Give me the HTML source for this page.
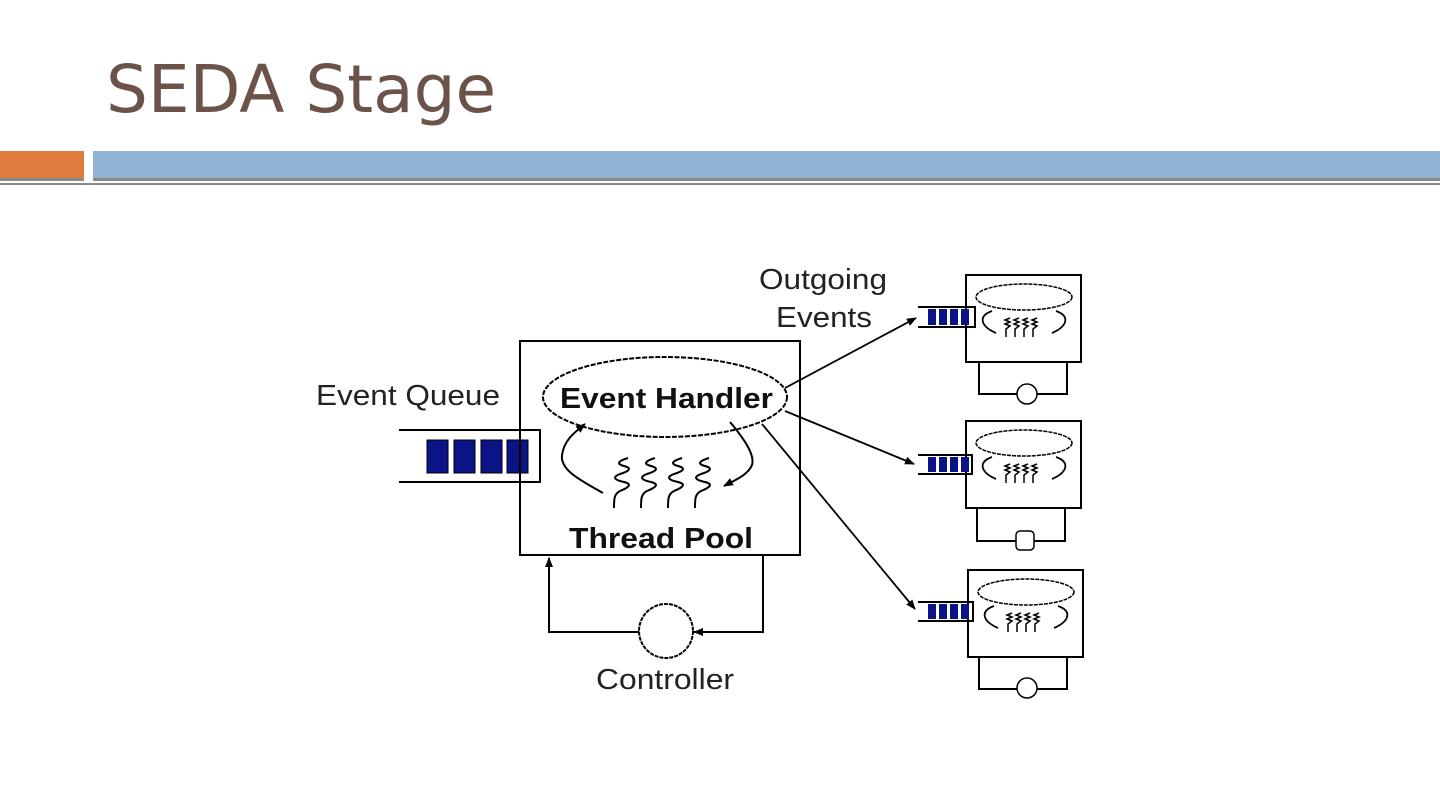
<!DOCTYPE html>
<html><head><style>
html,body{margin:0;padding:0;background:#fff;}
body{width:1440px;height:810px;position:relative;overflow:hidden;font-family:"Liberation Sans",sans-serif;}
</style></head><body>
<svg width="1440" height="810" viewBox="0 0 1440 810" xmlns="http://www.w3.org/2000/svg" style="position:absolute;left:0;top:0">
<defs>
<marker id="ah" markerWidth="10" markerHeight="8" refX="9" refY="4" orient="auto" markerUnits="userSpaceOnUse"><path d="M0,0 L10,4 L0,8 z" fill="#000"/></marker>
<g id="threads" fill="none" stroke="#000" stroke-width="2">
<path d="M0,0 c-10,3 -12,6 -4,8 c8,2 6,5 -4,8 c-8,3 -6,6 4,8 c8,2 6,5 -4,9 c-6,3 -6,8 -6,17"/>
</g>
<g id="mini">
<rect x="0" y="0" width="115" height="87" fill="#fff" stroke="#000" stroke-width="2"/>
<ellipse cx="58" cy="22" rx="48" ry="13" fill="none" stroke="#000" stroke-width="1.5" stroke-dasharray="4,1"/>
<path d="M26,36 c-14,5 -12,15 4,22" fill="none" stroke="#000" stroke-width="1.8"/>
<path d="M90,36 c14,5 12,15 -4,22" fill="none" stroke="#000" stroke-width="1.8"/>
<g fill="none" stroke="#000" stroke-width="1.5">
<path d="M44,43 l-5,2 l5,2 l-5,2 l5,2 l-4,3 l0,8"/>
<path d="M53,43 l-5,2 l5,2 l-5,2 l5,2 l-4,3 l0,8"/>
<path d="M62,43 l-5,2 l5,2 l-5,2 l5,2 l-4,3 l0,8"/>
<path d="M71,43 l-5,2 l5,2 l-5,2 l5,2 l-4,3 l0,8"/>
</g>
</g>
</defs>
<text x="106" y="112" font-size="66" fill="#6b5349" font-family="DejaVu Sans, sans-serif">SEDA Stage</text>
<rect x="0" y="151" width="84" height="27" fill="#e07b3e"/>
<rect x="93" y="151" width="1347" height="27" fill="#92b4d4"/>
<rect x="0" y="178" width="84" height="3" fill="#8a8a8a"/>
<rect x="93" y="178" width="1347" height="3" fill="#8a8a8a"/>
<rect x="0" y="183" width="1440" height="2" fill="#8a8a8a"/>

<text x="316" y="405" font-size="29" fill="#222" textLength="184" lengthAdjust="spacingAndGlyphs">Event Queue</text>
<path d="M399,430 H540 V482 H399" fill="none" stroke="#000" stroke-width="2"/>
<g fill="#0a1487" stroke="#000" stroke-width="1">
<rect x="427" y="440" width="21" height="33"/><rect x="454" y="440" width="21" height="33"/><rect x="481" y="440" width="21" height="33"/><rect x="507" y="440" width="21" height="33"/>
</g>
<rect x="520" y="341" width="280" height="214" fill="none" stroke="#000" stroke-width="2"/>
<ellipse cx="665" cy="397" rx="122" ry="40" fill="none" stroke="#000" stroke-width="2" stroke-dasharray="5,1.5"/>
<text x="560" y="408" font-size="29" font-weight="bold" fill="#111" textLength="213" lengthAdjust="spacingAndGlyphs">Event Handler</text>
<path d="M603,493 C580,480 560,470 562,455 C564,440 575,432 585,424" fill="none" stroke="#000" stroke-width="2" marker-end="url(#ah)"/>
<path d="M730,422 C745,440 755,455 752,465 C748,475 735,480 724,486" fill="none" stroke="#000" stroke-width="2" marker-end="url(#ah)"/>
<use href="#threads" x="628" y="458"/>
<use href="#threads" x="655" y="458"/>
<use href="#threads" x="682" y="458"/>
<use href="#threads" x="709" y="458"/>
<text x="569" y="548" font-size="29" font-weight="bold" fill="#111" textLength="184" lengthAdjust="spacingAndGlyphs">Thread Pool</text>
<path d="M763,555 V632 H694" fill="none" stroke="#000" stroke-width="2" marker-end="url(#ah)"/>
<path d="M639,632 H549 V558" fill="none" stroke="#000" stroke-width="2" marker-end="url(#ah)"/>
<circle cx="666" cy="631" r="27" fill="#fff" stroke="#000" stroke-width="2" stroke-dasharray="4,1"/>
<text x="596" y="689" font-size="29" fill="#222" textLength="138" lengthAdjust="spacingAndGlyphs">Controller</text>

<text x="759" y="289" font-size="29" fill="#222" textLength="128" lengthAdjust="spacingAndGlyphs">Outgoing</text>
<text x="776" y="327" font-size="29" fill="#222" textLength="96" lengthAdjust="spacingAndGlyphs">Events</text>
<line x1="785" y1="388" x2="916" y2="318" stroke="#000" stroke-width="1.8" marker-end="url(#ah)"/>
<line x1="785" y1="411" x2="914" y2="464" stroke="#000" stroke-width="1.8" marker-end="url(#ah)"/>
<line x1="762" y1="424" x2="915" y2="609" stroke="#000" stroke-width="1.8" marker-end="url(#ah)"/>

<g>
<use href="#mini" x="966" y="275"/>
<path d="M918,307 H975 V327 H918" fill="none" stroke="#000" stroke-width="2"/>
<g fill="#0a1487"><rect x="928" y="309" width="8" height="16"/><rect x="939" y="309" width="8" height="16"/><rect x="950" y="309" width="8" height="16"/><rect x="961" y="309" width="8" height="16"/></g>
<path d="M979,362 V394 H1067 V362" fill="none" stroke="#000" stroke-width="2"/>
<circle cx="1027" cy="394" r="10" fill="#fff" stroke="#000" stroke-width="1.5"/>
</g>
<g>
<use href="#mini" x="966" y="421"/>
<path d="M918,455 H972 V474 H918" fill="none" stroke="#000" stroke-width="2"/>
<g fill="#0a1487"><rect x="928" y="457" width="8" height="15"/><rect x="939" y="457" width="8" height="15"/><rect x="950" y="457" width="8" height="15"/><rect x="961" y="457" width="8" height="15"/></g>
<path d="M977,509 V541 H1065 V509" fill="none" stroke="#000" stroke-width="2"/>
<rect x="1016" y="531" width="18" height="19" rx="4" fill="#fff" stroke="#000" stroke-width="1.5"/>
</g>
<g>
<use href="#mini" x="968" y="570"/>
<path d="M918,602 H973 V621 H918" fill="none" stroke="#000" stroke-width="2"/>
<g fill="#0a1487"><rect x="928" y="604" width="8" height="15"/><rect x="939" y="604" width="8" height="15"/><rect x="950" y="604" width="8" height="15"/><rect x="961" y="604" width="8" height="15"/></g>
<path d="M979,657 V689 H1067 V657" fill="none" stroke="#000" stroke-width="2"/>
<circle cx="1027" cy="688" r="10" fill="#fff" stroke="#000" stroke-width="1.5"/>
</g>
</svg>
</body></html>
